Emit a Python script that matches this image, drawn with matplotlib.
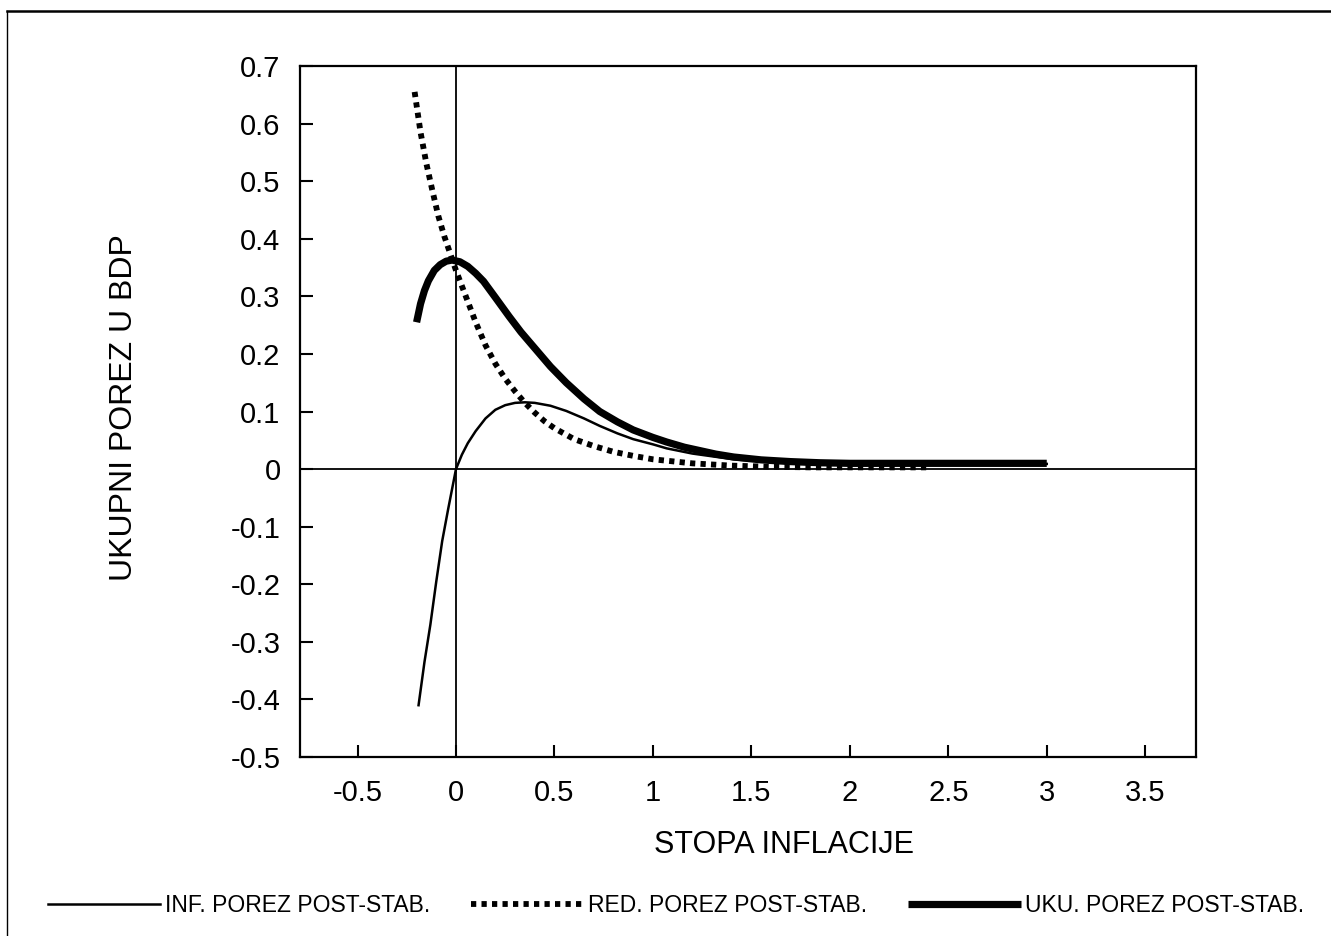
import numpy as np
import matplotlib
matplotlib.use("Agg")
import matplotlib.pyplot as plt
from matplotlib.lines import Line2D

plt.rcParams['font.family'] = ['Liberation Sans', 'DejaVu Sans']

# INF. POREZ POST-STAB. (thin line)
inf_x = [-0.19, -0.16, -0.13, -0.10, -0.07, -0.04, -0.02, 0.00, 0.03, 0.06, 0.10,
         0.15, 0.20, 0.25, 0.30, 0.35, 0.40, 0.48, 0.56, 0.65, 0.73, 0.82, 0.90,
         1.00, 1.07, 1.20, 1.41, 1.60, 1.80, 2.00, 2.50, 3.00]
inf_y = [-0.41, -0.335, -0.27, -0.195, -0.125, -0.07, -0.035, 0.0, 0.025, 0.045, 0.066,
         0.088, 0.103, 0.111, 0.115, 0.116, 0.115, 0.110, 0.101, 0.088, 0.075, 0.062, 0.052,
         0.043, 0.036, 0.027, 0.017, 0.012, 0.010, 0.009, 0.009, 0.009]

# RED. POREZ POST-STAB. (dotted line)
red_x = [-0.21, -0.18, -0.15, -0.12, -0.09, -0.06, -0.03, 0.00, 0.05, 0.10, 0.15,
         0.20, 0.25, 0.30, 0.35, 0.40, 0.45, 0.50, 0.60, 0.70, 0.80, 0.90, 1.00,
         1.20, 1.40, 1.60, 1.80, 2.00, 2.40]
red_y = [0.655, 0.585, 0.53, 0.484, 0.44, 0.405, 0.375, 0.345, 0.30, 0.255, 0.215,
         0.183, 0.157, 0.135, 0.115, 0.098, 0.083, 0.071, 0.052, 0.040, 0.030, 0.023, 0.017,
         0.010, 0.006, 0.004, 0.003, 0.003, 0.003]

# UKU. POREZ POST-STAB. (thick line)
uku_x = [-0.20, -0.18, -0.16, -0.14, -0.11, -0.08, -0.05, -0.02, 0.02, 0.06, 0.10, 0.14,
         0.20, 0.27, 0.33, 0.40, 0.48, 0.56, 0.65, 0.73, 0.82, 0.90, 1.00, 1.07,
         1.16, 1.24, 1.32, 1.41, 1.55, 1.70, 1.85, 2.00, 2.50, 3.00]
uku_y = [0.255, 0.287, 0.31, 0.327, 0.345, 0.355, 0.361, 0.363, 0.36, 0.352, 0.34, 0.326,
         0.298, 0.265, 0.238, 0.21, 0.178, 0.150, 0.122, 0.100, 0.082, 0.068, 0.055, 0.047,
         0.038, 0.032, 0.026, 0.021, 0.016, 0.013, 0.011, 0.010, 0.010, 0.010]

xticks = [-0.5, 0, 0.5, 1, 1.5, 2, 2.5, 3, 3.5]
xtick_labels = ["-0.5", "0", "0.5", "1", "1.5", "2", "2.5", "3", "3.5"]
yticks = [-0.5, -0.4, -0.3, -0.2, -0.1, 0, 0.1, 0.2, 0.3, 0.4, 0.5, 0.6, 0.7]
ytick_labels = ["-0.5", "-0.4", "-0.3", "-0.2", "-0.1", "0", "0.1", "0.2", "0.3",
                "0.4", "0.5", "0.6", "0.7"]

fig = plt.figure(figsize=(13.31, 9.36), dpi=100)
ax = fig.add_axes([0.2254, 0.1912, 0.6732, 0.7383])

ax.axhline(0, color='black', lw=1.3, zorder=1)
ax.axvline(0, color='black', lw=1.3, zorder=1)

l_inf, = ax.plot(inf_x, inf_y, color='black', lw=1.8, zorder=3)
l_red, = ax.plot(red_x, red_y, color='black', lw=4.2, ls=(0, (0.9, 0.9)),
                 dash_capstyle='butt', zorder=2)
l_uku, = ax.plot(uku_x, uku_y, color='black', lw=5.2, solid_capstyle='butt',
                 solid_joinstyle='round', zorder=4)

ax.set_xlim(-0.792, 3.758)
ax.set_ylim(-0.5, 0.7)
ax.set_xticks(xticks)
ax.set_xticklabels(xtick_labels)
ax.set_yticks(yticks)
ax.set_yticklabels(ytick_labels)
ax.tick_params(direction='in', length=9, width=1.5, labelsize=21, colors='black')
ax.tick_params(axis='x', pad=16)
ax.tick_params(axis='y', pad=14)
for s in ax.spines.values():
    s.set_linewidth(1.6)

ax.set_xlabel("STOPA INFLACIJE", fontsize=22)
ax.set_ylabel("UKUPNI POREZ U BDP", fontsize=23)
ax.xaxis.set_label_coords(0.540, -0.106)
ax.yaxis.set_label_coords(-0.180, 0.505)

leg = fig.legend([l_inf, l_red, l_uku],
                 ["INF. POREZ POST-STAB.", "RED. POREZ POST-STAB.", "UKU. POREZ POST-STAB."],
                 loc='center', bbox_to_anchor=(0.508, 0.033), ncol=3, frameon=False,
                 handlelength=4.9, handletextpad=0.2, columnspacing=1.8,
                 prop={'size': 16.5})

# page frame
fig.add_artist(Line2D([0.005, 1.0], [0.988, 0.988], color='black', lw=1.8,
                      transform=fig.transFigure))
fig.add_artist(Line2D([0.0055, 0.0055], [0.0, 0.988], color='black', lw=1.0,
                      transform=fig.transFigure))

fig.savefig("out.png", dpi=100)
